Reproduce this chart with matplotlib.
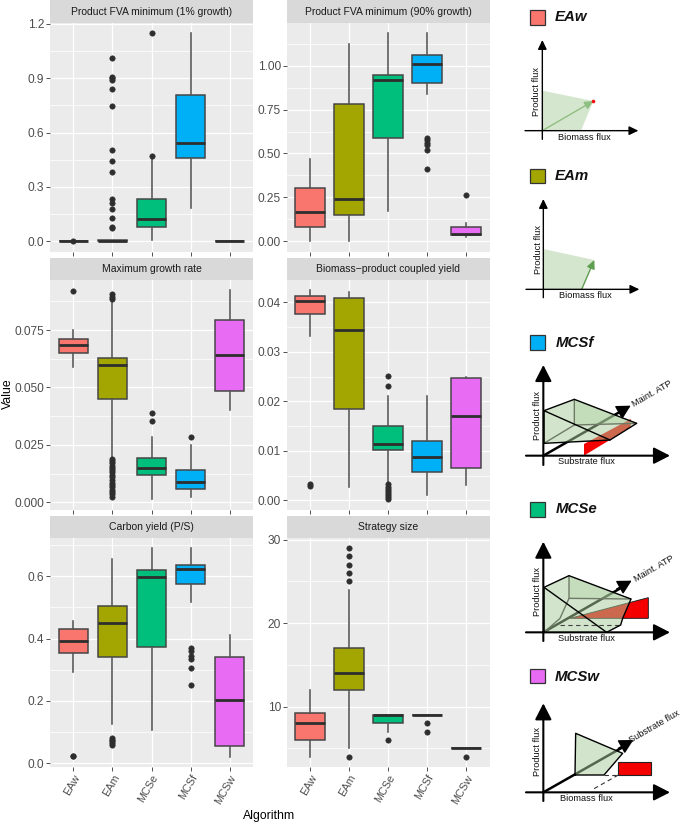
import matplotlib
matplotlib.use("Agg")
import matplotlib.pyplot as plt
from matplotlib.patches import Polygon, Rectangle

plt.rcParams['font.family'] = ['Liberation Sans', 'DejaVu Sans']

W, H = 685, 824
algorithms = ['EAw', 'EAm', 'MCSe', 'MCSf', 'MCSw']
colors = ['#F8766D', '#A3A500', '#00BF7D', '#00B0F6', '#E76BF3']

# --- Product FVA minimum (1% growth)
p1_title = 'Product FVA minimum (1% growth)'
p1_q1 = [0.0, 0.0, 0.077, 0.46, 0.0]
p1_med = [0.001, 0.002, 0.123, 0.545, 0.0]
p1_q3 = [0.003, 0.006, 0.232, 0.807, 0.002]
p1_lo = [0.0, 0.0, 0.01, 0.182, 0.0]
p1_hi = [0.003, 0.006, 0.47, 1.153, 0.002]
p1_out = [[0.0],
          [1.01, 0.91, 0.90, 0.89, 0.84, 0.745, 0.505, 0.445, 0.385, 0.235, 0.21, 0.18, 0.13, 0.08, 0.075],
          [0.47, 1.15], [], []]
# --- Product FVA minimum (90% growth)
p2_title = 'Product FVA minimum (90% growth)'
p2_q1 = [0.083, 0.148, 0.586, 0.899, 0.038]
p2_med = [0.169, 0.243, 0.92, 1.011, 0.042]
p2_q3 = [0.304, 0.784, 0.949, 1.063, 0.083]
p2_lo = [0.0, 0.002, 0.171, 0.839, 0.025]
p2_hi = [0.47, 1.121, 1.188, 1.188, 0.102]
p2_out = [[], [], [], [0.59, 0.575, 0.56, 0.55, 0.52, 0.41], [0.266]]
# --- Maximum growth rate
p3_title = 'Maximum growth rate'
p3_q1 = [0.0648, 0.0451, 0.0118, 0.0059, 0.0485]
p3_med = [0.0685, 0.0599, 0.0149, 0.009, 0.0641]
p3_q3 = [0.0709, 0.0627, 0.0191, 0.0139, 0.0794]
p3_lo = [0.0588, 0.0195, 0.0013, 0.0023, 0.0403]
p3_hi = [0.075, 0.0885, 0.0283, 0.0251, 0.0923]
p3_out = [[0.0921],
          [0.0905, 0.0895, 0.0885, 0.019, 0.018, 0.017, 0.016, 0.015, 0.014, 0.013, 0.012, 0.011,
           0.0095, 0.0085, 0.0075, 0.0065, 0.0055, 0.0045, 0.0035, 0.0025],
          [0.0388, 0.0356], [0.0283], []]
# --- Biomass-product coupled yield
p4_title = 'Biomass\u2212product coupled yield'
p4_q1 = [0.0377, 0.0184, 0.0102, 0.0057, 0.0065]
p4_med = [0.0402, 0.0345, 0.01145, 0.0087, 0.0171]
p4_q3 = [0.0412, 0.0409, 0.0151, 0.01205, 0.0248]
p4_lo = [0.0332, 0.0027, 0.0035, 0.0011, 0.003]
p4_hi = [0.0424, 0.042, 0.0211, 0.0211, 0.025]
p4_out = [[0.0033, 0.0028], [],
          [0.0252, 0.0231, 0.0032, 0.0027, 0.0023, 0.0019, 0.0015, 0.0011, 0.0007, 0.0003],
          [], []]
# --- Carbon yield (P/S)
p5_title = 'Carbon yield (P/S)'
p5_q1 = [0.354, 0.342, 0.373, 0.574, 0.0545]
p5_med = [0.3925, 0.451, 0.598, 0.6235, 0.203]
p5_q3 = [0.432, 0.506, 0.62, 0.637, 0.34]
p5_lo = [0.294, 0.125, 0.107, 0.517, 0.021]
p5_hi = [0.458, 0.657, 0.691, 0.691, 0.411]
p5_out = [[0.022, 0.024], [0.06, 0.065, 0.07, 0.075, 0.08], [],
          [0.37, 0.36, 0.345, 0.335, 0.305, 0.25], []]
# --- Strategy size
p6_title = 'Strategy size'
p6_q1 = [6, 12, 8, 9, 5]
p6_med = [8, 14, 9, 9, 5]
p6_q3 = [9.25, 17, 9, 9, 5]
p6_lo = [4, 5, 7, 9, 5]
p6_hi = [12, 24, 9, 9, 5]
p6_out = [[], [29, 28, 27, 26, 25, 4], [6], [8, 7], [4]]

panels = [
    dict(t=p1_title, q1=p1_q1, med=p1_med, q3=p1_q3, lo=p1_lo, hi=p1_hi, out=p1_out,
         x=50, y=23, w=203, h=229, ylim=(-0.059, 1.2055),
         ticks=[0, .3, .6, .9, 1.2], minor=[.15, .45, .75, 1.05], labels=['0.0', '0.3', '0.6', '0.9', '1.2'], strip=0),
    dict(t=p2_title, q1=p2_q1, med=p2_med, q3=p2_q3, lo=p2_lo, hi=p2_hi, out=p2_out,
         x=286.7, y=23, w=203, h=229, ylim=(-0.061, 1.243),
         ticks=[0, .25, .5, .75, 1], minor=[.125, .375, .625, .875, 1.125], labels=['0.00', '0.25', '0.50', '0.75', '1.00'], strip=0),
    dict(t=p3_title, q1=p3_q1, med=p3_med, q3=p3_q3, lo=p3_lo, hi=p3_hi, out=p3_out,
         x=50, y=280, w=203, h=230, ylim=(-0.00335, 0.0968),
         ticks=[0, .025, .05, .075], minor=[.0125, .0375, .0625, .0875], labels=['0.000', '0.025', '0.050', '0.075'], strip=258),
    dict(t=p4_title, q1=p4_q1, med=p4_med, q3=p4_q3, lo=p4_lo, hi=p4_hi, out=p4_out,
         x=286.7, y=280, w=203, h=230, ylim=(-0.00196, 0.0445),
         ticks=[0, .01, .02, .03, .04], minor=[.005, .015, .025, .035], labels=['0.00', '0.01', '0.02', '0.03', '0.04'], strip=258),
    dict(t=p5_title, q1=p5_q1, med=p5_med, q3=p5_q3, lo=p5_lo, hi=p5_hi, out=p5_out,
         x=50, y=538, w=203, h=229.3, ylim=(-0.0128, 0.7228),
         ticks=[0, .2, .4, .6], minor=[.1, .3, .5, .7], labels=['0.0', '0.2', '0.4', '0.6'], strip=516),
    dict(t=p6_title, q1=p6_q1, med=p6_med, q3=p6_q3, lo=p6_lo, hi=p6_hi, out=p6_out,
         x=286.7, y=538, w=203, h=229.3, ylim=(2.74, 30.2),
         ticks=[10, 20, 30], minor=[5, 15, 25], labels=['10', '20', '30'], strip=516),
]

fig = plt.figure(figsize=(W / 100, H / 100), dpi=100)
over = fig.add_axes([0, 0, 1, 1], zorder=5)
over.set_xlim(0, W)
over.set_ylim(H, 0)
over.axis('off')
over.patch.set_alpha(0)

PT = 0.72  # points per pixel at 100 dpi
for i, p in enumerate(panels):
    ax = fig.add_axes([p['x'] / W, 1 - (p['y'] + p['h']) / H, p['w'] / W, p['h'] / H])
    ax.set_facecolor('#EBEBEB')
    for s in ax.spines.values():
        s.set_visible(False)
    ax.set_axisbelow(True)
    stats = [dict(med=p['med'][k], q1=p['q1'][k], q3=p['q3'][k], whislo=p['lo'][k], whishi=p['hi'][k],
                  fliers=p['out'][k]) for k in range(5)]
    b = ax.bxp(stats, positions=range(1, 6), widths=0.76, patch_artist=True, showcaps=False,
               boxprops=dict(edgecolor='#444444', linewidth=1.5 * PT),
               whiskerprops=dict(color='#555555', linewidth=1.6 * PT),
               medianprops=dict(color='#2E2E2E', linewidth=2.8 * PT, solid_capstyle='butt'),
               flierprops=dict(marker='o', markerfacecolor='#2E2E2E', markeredgecolor='#2E2E2E',
                               markersize=5.4 * PT, markeredgewidth=0.4))
    for patch, c in zip(b['boxes'], colors):
        patch.set_facecolor(c)
    ax.set_xlim(0.4, 5.6)
    ax.set_ylim(*p['ylim'])
    ax.set_yticks(p['ticks'])
    ax.set_yticklabels(p['labels'])
    ax.set_yticks(p['minor'], minor=True)
    ax.set_xticks(range(1, 6))
    ax.grid(True, which='major', color='white', linewidth=1.3 * PT)
    ax.grid(True, which='minor', axis='y', color='white', linewidth=0.7 * PT)
    ax.tick_params(axis='both', which='major', length=2.6, width=0.6, color='#333333',
                   labelcolor='#4D4D4D', labelsize=8.6, pad=1.5)
    ax.tick_params(axis='y', which='minor', length=0)
    if i >= 4:
        ax.set_xticklabels(algorithms, rotation=60, ha='right', va='top', rotation_mode='anchor', fontsize=7.8)
    else:
        ax.set_xticklabels([])
    sy = p['strip'] if i >= 2 else 0
    over.add_patch(Rectangle((p['x'], sy), p['w'], p['y'] - sy, facecolor='#D9D9D9', edgecolor='none'))
    over.text(p['x'] + p['w'] / 2, (sy + p['y']) / 2 + 0.3, p['t'], ha='center', va='center',
              fontsize=7.45, color='#1A1A1A')

over.text(8, 394, 'Value', rotation=90, ha='center', va='center', fontsize=8.8, color='black')
over.text(269.5, 816, 'Algorithm', ha='center', va='center', fontsize=8.8, color='black')

# --- Schematic panels on the right, coordinates in zoomed pixels (x3) of each block
GREEN = '#A7CD9B'
GA = 0.51
FS = 6.7


def tr(ox, oy, pts):
    return [(ox + a / 3, oy + b / 3) for a, b in pts]


def line(ox, oy, pts, color='black', lw=1.0, ls='-', z=6):
    q = tr(ox, oy, pts)
    over.plot([a for a, _ in q], [b for _, b in q], color=color, lw=lw, ls=ls, zorder=z,
              solid_capstyle='round', solid_joinstyle='round')


def poly(ox, oy, pts, fc, alpha=1.0, ec='none', lw=0, z=4):
    over.add_patch(Polygon(tr(ox, oy, pts), closed=True, facecolor=fc, edgecolor=ec, alpha=alpha, linewidth=lw, zorder=z))


def arrow(ox, oy, a, b, color='black', lw=1.0, ms=9, z=6, hw=0.5):
    (x0, y0), (x1, y1) = tr(ox, oy, [a, b])
    over.annotate('', xy=(x1, y1), xytext=(x0, y0), zorder=z,
                  arrowprops=dict(arrowstyle=f'-|>,head_length={ms / 22:.2f},head_width={ms / 22 * hw:.2f}',
                                  color=color, lw=lw, shrinkA=0, shrinkB=0, mutation_scale=22))


def txt(ox, oy, xy, s, rot=0, fs=FS, **kw):
    x, y = tr(ox, oy, [xy])[0]
    over.text(x, y, s, rotation=rot, rotation_mode='anchor' if rot not in (0, 90) else 'default',
              ha='center', va='center', fontsize=fs, color='#111111', zorder=8, **kw)


def header(ox, oy, box, name, c, tx, ty):
    (x0, y0), (x1, y1) = tr(ox, oy, box)
    over.add_patch(Rectangle((x0, y0), x1 - x0, y1 - y0, facecolor=c, edgecolor='#333333', lw=0.9, zorder=6))
    x, y = tr(ox, oy, [(tx, ty)])[0]
    over.text(x, y, name, ha='left', va='center', fontsize=10.8, fontweight='bold', fontstyle='italic',
              color='#111111', zorder=8)


# EAw
ox, oy = 510, 0
header(ox, oy, [(60, 29), (105, 75)], 'EAw', colors[0], 135, 52)
poly(ox, oy, [(97, 272), (250, 303), (213, 392), (97, 392)], '#D5E6CF')
arrow(ox, oy, (97, 392), (250, 303), color='#8FBF80', lw=1.0, ms=5)
arrow(ox, oy, (97, 418), (97, 120), ms=5.5)
arrow(ox, oy, (45, 392), (385, 392), ms=5.5)
over.plot([510 + 250 / 3], [304 / 3], 'o', color='#F01010', ms=2.6, mew=0, zorder=7)
txt(ox, oy, (223, 411), 'Biomass flux')
txt(ox, oy, (81, 274), 'Product flux', rot=90)

# EAm
header(ox, oy, [(60, 506), (105, 550)], 'EAm', colors[1], 135, 528)
poly(ox, oy, [(100, 747), (253, 780), (215, 868), (100, 868)], '#D5E6CF')
arrow(ox, oy, (215, 868), (253, 780), color='#5F9E4F', lw=1.0, ms=5)
arrow(ox, oy, (100, 893), (100, 597), ms=5.5)
arrow(ox, oy, (48, 868), (388, 868), ms=5.5)
txt(ox, oy, (226, 885), 'Biomass flux')
txt(ox, oy, (85, 749), 'Product flux', rot=90)

# MCSf
ox, oy = 510, 320
header(ox, oy, [(60, 45), (105, 90)], 'MCSf', colors[3], 137, 68)
poly(ox, oy, [(222, 372), (362, 297), (362, 322), (225, 405), (222, 405)], '#F40000', z=3)
line(ox, oy, [(100, 407), (345, 267)], lw=1.8, z=3)
poly(ox, oy, [(102, 272), (193, 238), (380, 310), (300, 360), (102, 370)], GREEN, alpha=GA)
poly(ox, oy, [(193, 238), (380, 310), (193, 315)], GREEN, alpha=0.35)
line(ox, oy, [(193, 238), (193, 315), (380, 310)], color='#707A68', lw=1.0, z=5)
line(ox, oy, [(102, 370), (193, 315)], color='#707A68', lw=1.0, z=5)
line(ox, oy, [(102, 272), (193, 238), (380, 310), (300, 360), (102, 370), (102, 272)], lw=1.0)
line(ox, oy, [(102, 272), (300, 360)], lw=1.0)
arrow(ox, oy, (318, 282), (362, 257), ms=8.5, hw=0.55)
arrow(ox, oy, (100, 435), (100, 135), lw=1.5, ms=10)
arrow(ox, oy, (48, 407), (480, 407), lw=1.5, ms=10)
txt(ox, oy, (230, 425), 'Substrate flux')
txt(ox, oy, (82, 285), 'Product flux', rot=90)
txt(ox, oy, (425, 222), 'Maint. ATP', rot=30)

# MCSe
ox, oy = 510, 490
header(ox, oy, [(60, 37), (105, 80)], 'MCSe', colors[2], 137, 58)
poly(ox, oy, [(180, 385), (415, 323), (415, 385)], '#F40000', ec='#222222', lw=0.7, z=3)
line(ox, oy, [(100, 427), (345, 287)], lw=1.8, z=3)
poly(ox, oy, [(102, 292), (177, 257), (363, 327), (338, 385), (332, 405), (290, 427), (102, 427)], GREEN, alpha=GA)
poly(ox, oy, [(177, 257), (363, 327), (177, 325)], GREEN, alpha=0.3)
line(ox, oy, [(177, 257), (177, 325), (363, 327)], color='#707A68', lw=1.0, z=5)
line(ox, oy, [(177, 325), (150, 385), (102, 427)], color='#707A68', lw=1.0, z=5)
line(ox, oy, [(150, 405), (332, 405)], color='#444444', lw=0.8, ls=(0, (4, 3)), z=5)
line(ox, oy, [(102, 427), (102, 292), (177, 257), (363, 327), (338, 385), (332, 405), (290, 427)], lw=1.0)
line(ox, oy, [(102, 292), (290, 427)], lw=1.0)
arrow(ox, oy, (320, 297), (365, 272), ms=8.5, hw=0.55)
arrow(ox, oy, (100, 453), (100, 155), lw=1.5, ms=10)
arrow(ox, oy, (48, 427), (480, 427), lw=1.5, ms=10)
txt(ox, oy, (230, 445), 'Substrate flux')
txt(ox, oy, (82, 305), 'Product flux', rot=90)
txt(ox, oy, (432, 235), 'Maint. ATP', rot=30)

# MCSw
header(ox, oy, [(60, 537), (105, 580)], 'MCSw', colors[4], 135, 560)
poly(ox, oy, [(325, 815), (423, 815), (423, 855), (325, 855)], '#F40000', ec='#222222', lw=0.8, z=3)
line(ox, oy, [(100, 907), (350, 765)], lw=1.8, z=3)
poly(ox, oy, [(197, 730), (338, 790), (282, 855), (195, 855)], GREEN, alpha=GA)
line(ox, oy, [(195, 855), (197, 730), (338, 790), (282, 855), (195, 855)], lw=1.0)
line(ox, oy, [(282, 855), (325, 855)], color='#333333', lw=0.8, ls=(0, (4, 3)))
line(ox, oy, [(325, 855), (245, 900)], color='#333333', lw=0.8, ls=(0, (4, 3)))
arrow(ox, oy, (325, 775), (370, 750), ms=8.5, hw=0.55)
arrow(ox, oy, (100, 933), (100, 640), lw=1.5, ms=10)
arrow(ox, oy, (48, 907), (480, 907), lw=1.5, ms=10)
txt(ox, oy, (230, 925), 'Biomass flux')
txt(ox, oy, (82, 785), 'Product flux', rot=90)
txt(ox, oy, (432, 710), 'Substrate flux', rot=30)

fig.savefig('out.png', dpi=100)
